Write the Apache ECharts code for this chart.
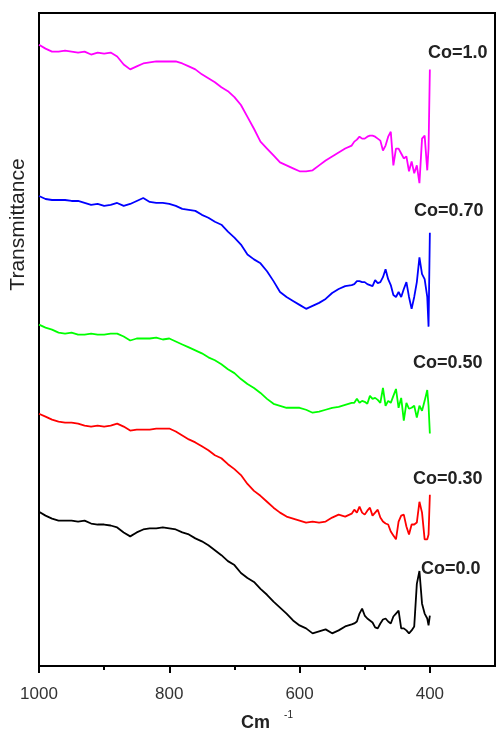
<!DOCTYPE html>
<html>
<head>
<meta charset="utf-8">
<title>FTIR spectra</title>
<script src="https://cdn.jsdelivr.net/npm/echarts@6/dist/echarts.min.js"></script>
<style>
  html, body { margin: 0; padding: 0; background: #fff; }
  #main { width: 496px; height: 737px; }
</style>
</head>
<body>
<div id="main"></div>
<script>
// wavenumber (cm-1), shared by all spectra
var waveNumbers = [
  1000, 990, 980, 970, 960, 950, 940, 930, 920, 910,
  900, 890, 880, 870, 860, 850, 840, 830, 820, 810,
  800, 790, 780, 770, 760, 750, 740, 730, 720, 710,
  700, 690, 680, 670, 660, 650, 640, 630, 620, 610,
  600, 590, 580, 570, 560, 550, 540, 530, 520,
  516, 512, 508, 504, 500, 496, 492, 488, 484, 480,
  476, 472, 468, 464, 460, 456, 452, 448, 444, 440,
  436, 432, 428, 424, 420, 416, 412, 408, 404, 402, 400
];

// transmittance (arbitrary units, spectra stacked with offsets)
var co100 = [
  628, 624, 621, 621, 622, 621, 620, 621, 618, 620,
  619, 620, 616, 608, 603, 606, 609, 610, 611, 611,
  611, 611, 609, 606, 603, 598, 594, 590, 585, 581,
  575, 567, 555, 543, 530, 523, 516, 509, 506, 503,
  500, 500, 501, 506, 511, 515, 519, 523, 526,
  530, 532, 535, 533, 533, 535, 536, 536, 535, 533,
  531, 521, 526, 535, 540, 506, 523, 523, 518, 513,
  515, 500, 510, 498, 506, 488, 533, 536, 501, 523, 603
];
var co070 = [
  475, 472, 471, 471, 471, 470, 470, 468, 466, 467,
  465, 466, 468, 465, 467, 470, 473, 469, 468, 468,
  467, 465, 462, 461, 460, 456, 453, 449, 446, 439,
  433, 426, 416, 411, 407, 399, 389, 378, 373, 369,
  365, 361, 364, 367, 371, 377, 381, 384, 385,
  386, 389, 389, 388, 388, 386, 385, 384, 390, 387,
  388, 393, 401, 391, 385, 375, 373, 378, 373, 381,
  388, 373, 361, 373, 388, 413, 396, 391, 373, 343, 438
];
var co050 = [
  345, 342, 340, 337, 336, 337, 335, 335, 336, 335,
  335, 336, 336, 333, 329, 331, 331, 331, 332, 330,
  331, 328, 325, 322, 319, 316, 312, 309, 305, 300,
  296, 290, 285, 281, 276, 270, 265, 263, 261, 261,
  261, 259, 256, 257, 259, 261, 262, 264, 266,
  266, 270, 266, 268, 267, 265, 273, 270, 271, 269,
  266, 281, 263, 268, 266, 273, 280, 261, 271, 248,
  266, 260, 261, 263, 251, 263, 258, 268, 279, 263, 235
];
var co030 = [
  255, 252, 249, 247, 246, 246, 245, 243, 242, 243,
  242, 243, 245, 242, 238, 239, 239, 239, 240, 240,
  240, 237, 233, 229, 226, 222, 218, 213, 210, 204,
  199, 193, 184, 177, 172, 166, 160, 155, 151, 149,
  147, 145, 146, 145, 146, 150, 153, 151, 154,
  158, 155, 161, 155, 153, 157, 160, 152, 155, 158,
  150, 146, 144, 143, 136, 132, 128, 146, 152, 153,
  141, 133, 143, 143, 145, 166, 155, 128, 128, 133, 173
];
var co000 = [
  156, 152, 149, 147, 147, 147, 146, 147, 144, 143,
  143, 142, 140, 135, 131, 135, 138, 139, 139, 140,
  139, 138, 135, 133, 129, 126, 122, 117, 112, 106,
  102, 94, 89, 85, 78, 72, 65, 59, 53, 46,
  41, 38, 33, 35, 37, 33, 36, 40, 42,
  43, 45, 53, 58, 51, 48, 46, 44, 39, 38,
  43, 47, 48, 45, 43, 50, 53, 56, 38, 38,
  36, 33, 36, 40, 83, 96, 63, 53, 48, 41, 51
];

var seriesNames = ['Co=1.0', 'Co=0.70', 'Co=0.50', 'Co=0.30', 'Co=0.0'];
var seriesColors = ['#ff00ff', '#0000ff', '#00ff00', '#ff0000', '#000000'];
var seriesValues = [co100, co070, co050, co030, co000];

var majorTicks = [1000, 800, 600, 400];
var minorTicks = [900, 700, 500];

var chart = echarts.init(document.getElementById('main'));

function pairs(vals) {
  return waveNumbers.map(function (w, i) { return [w, vals[i]]; });
}

var series = seriesNames.map(function (name, i) {
  return {
    name: name,
    type: 'line',
    xAxisIndex: 0,
    data: pairs(seriesValues[i]),
    showSymbol: false,
    lineStyle: { color: seriesColors[i], width: 1.8 },
    itemStyle: { color: seriesColors[i] },
    animation: false
  };
});

// label placement (pixels) next to each spectrum
var labelPos = [[428, 44], [414, 202], [413, 354], [413, 470], [421, 560]];
var graphics = seriesNames.map(function (name, i) {
  return {
    type: 'text',
    left: labelPos[i][0],
    top: labelPos[i][1],
    style: {
      text: name,
      font: 'bold 18px "Liberation Sans", Arial, sans-serif',
      fill: '#222'
    }
  };
});

var option = {
  backgroundColor: '#fff',
  animation: false,
  grid: {
    left: 38, top: 13, width: 457, height: 660,
    show: true, borderColor: '#000', borderWidth: 2
  },
  xAxis: [{
    type: 'value',
    min: 300, max: 1000,
    inverse: true,
    name: '{m|Cm}{s|-1}',
    nameLocation: 'middle',
    nameGap: 44,
    nameTextStyle: {
      rich: {
        m: { fontFamily: 'Liberation Sans', fontWeight: 'bold', fontSize: 18, color: '#222', padding: [0, 14, 0, 0] },
        s: { fontFamily: 'Liberation Sans', fontSize: 10, color: '#222', padding: [0, 0, 16, 0] }
      }
    },
    axisLine: { show: true, lineStyle: { color: '#000', width: 2 } },
    axisTick: { show: true, customValues: majorTicks, length: 7, lineStyle: { color: '#000', width: 2 } },
    axisLabel: {
      customValues: majorTicks,
      formatter: function (v) { return String(v); },
      margin: 20,
      fontFamily: 'Liberation Sans', fontSize: 17, color: '#333'
    },
    splitLine: { show: false }
  }, {
    type: 'value',
    min: 300, max: 1000,
    inverse: true,
    position: 'bottom',
    axisLine: { show: false },
    axisTick: { show: true, customValues: minorTicks, length: 4, lineStyle: { color: '#000', width: 2 } },
    axisLabel: { show: false },
    splitLine: { show: false }
  }],
  yAxis: {
    type: 'value',
    min: 0, max: 660,
    name: 'Transmittance',
    nameLocation: 'middle',
    nameGap: 10,
    nameTextStyle: {
      fontFamily: 'Liberation Sans', fontSize: 21, color: '#222',
      padding: [0, 0, 0, 230]
    },
    axisLine: { show: false },
    axisTick: { show: false },
    axisLabel: { show: false },
    splitLine: { show: false }
  },
  series: series,
  graphic: graphics
};

chart.setOption(option);
</script>
</body>
</html>
